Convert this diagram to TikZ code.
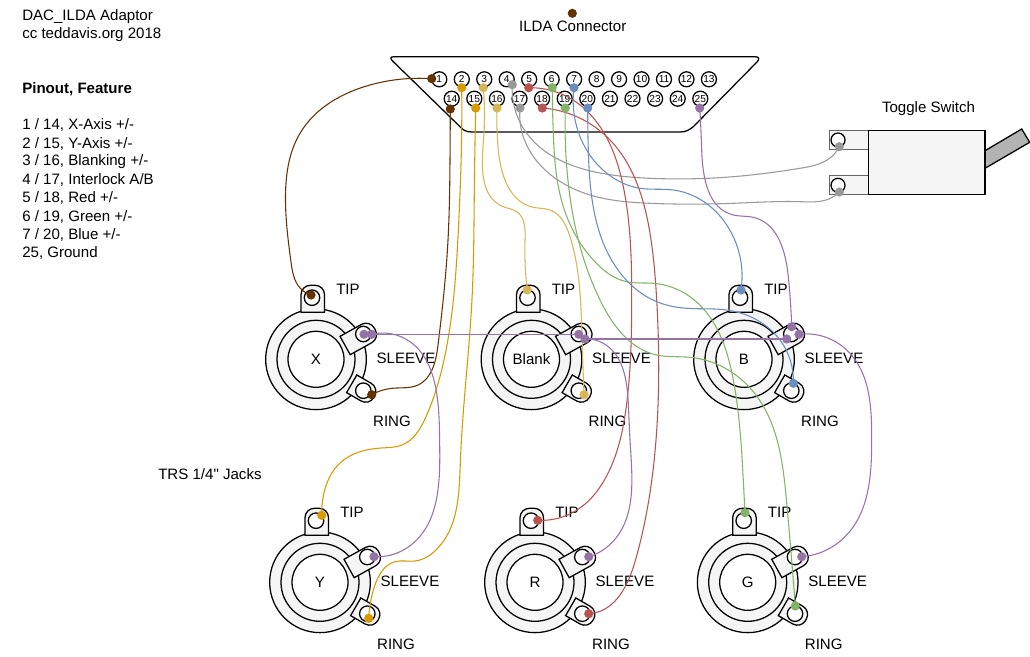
\documentclass[tikz,border=0pt]{standalone}
\usepackage{fontspec}
\usetikzlibrary{hobby}
\setmainfont{Liberation Sans}
\newfontfamily\plainquote{Liberation Sans}
\definecolor{cbrown}{HTML}{663300}
\definecolor{cgold}{HTML}{D79B00}
\definecolor{clight}{HTML}{D6B656}
\definecolor{cgray}{HTML}{999999}
\definecolor{cred}{HTML}{B85450}
\definecolor{cgreen}{HTML}{82B366}
\definecolor{cblue}{HTML}{6C8EBF}
\definecolor{cpurple}{HTML}{9673A6}
\definecolor{cpanel}{HTML}{F5F5F5}
\definecolor{cterm}{HTML}{666666}
\definecolor{clever}{HTML}{B3B3B3}
\tikzset{
  ln/.style={draw=black,line width=0.95pt},
  txt/.style={font=\fontsize{11.3}{13}\selectfont,inner sep=0pt,text=black,yshift=-0.7pt},
  pinhole/.style={circle,ln,fill=white,minimum size=11.25pt,inner sep=0pt,font=\fontsize{7.6}{8}\selectfont},
  hole/.style={circle,ln,fill=white,minimum size=11.6pt,inner sep=0pt},
  wire/.style={line width=0.8pt,line cap=round,line join=round,use Hobby shortcut},
  dotn/.style={circle,minimum size=6.9pt,inner sep=0pt,draw=none},
}
\newcommand{\tabshape}[8]{% name, cx, cy, bx, by, angle, length, halfwidth
  \begin{scope}[shift={(#2+#4,#3+#5)},rotate=#6]
    \draw[ln,fill=cpanel] (0,-#8) [rounded corners=7pt] -- (#7,-#8) -- (#7,#8) [sharp corners] -- (0,#8) -- cycle;
  \end{scope}}
\newcommand{\jackunit}[4]{% name, x, y, label
  \node[circle,ln,fill=cpanel,minimum size=75.5pt,inner sep=0pt] (#1outer) at (#2,#3) {};
  \node[circle,ln,fill=cpanel,minimum size=58.5pt,inner sep=0pt] (#1mid) at (#2,#3) {};
  \node[circle,ln,fill=white,minimum size=42pt,inner sep=0pt,font=\fontsize{11.3}{13}\selectfont] (#1inner) at (#2,#3) {#4};
  \tabshape{#1t}{#2}{#3}{-3.25}{-47}{90}{27}{11.75}
  \tabshape{#1s}{#2}{#3}{29.1}{-13.8}{29}{34}{10.5}
  \tabshape{#1r}{#2}{#3}{35.7}{24.5}{-30}{26}{10.2}
  \node[hole] (#1th) at (#2-4,#3-61.6) {};
  \node[hole] (#1sh) at (#2+47.3,#3-25.3) {};
  \node[hole] (#1rh) at (#2+47.3,#3+31.4) {};
  \node[txt] (#1tl) at (#2+32,#3-71) {TIP};
  \node[txt] (#1sl) at (#2+90,#3-1.6) {SLEEVE};
  \node[txt] (#1rl) at (#2+76,#3+61.4) {RING};
}
\newcommand{\wdot}[2]{\node[dotn,fill=#2] (#1n) at (#1) {};}
\begin{document}
\begin{tikzpicture}[x=0.75pt,y=-0.75pt]
\useasboundingbox (0,0) rectangle (1030,656);
\fill[white] (0,0) rectangle (1030,656);

% texts
\node[txt,anchor=west] (title1) at (22,15.7) {DAC\_ILDA Adaptor};
\node[txt,anchor=west] (title2) at (22,33.7) {cc teddavis.org 2018};
\node[txt,anchor=west,font=\fontsize{11.3}{13}\selectfont\bfseries] (pinhead) at (22,88.3) {Pinout, Feature};
\node[txt,anchor=west] (l1) at (22,124.3) {1 / 14, X-Axis +/-};
\node[txt,anchor=west] (l2) at (22,142.6) {2 / 15, Y-Axis +/-};
\node[txt,anchor=west] (l3) at (22,160.7) {3 / 16, Blanking +/-};
\node[txt,anchor=west] (l4) at (22,178.7) {4 / 17, Interlock A/B};
\node[txt,anchor=west] (l5) at (22,196.7) {5 / 18, Red +/-};
\node[txt,anchor=west] (l6) at (22,216) {6 / 19, Green +/-};
\node[txt,anchor=west] (l7) at (22,234) {7 / 20, Blue +/-};
\node[txt,anchor=west] (l8) at (22,252) {25, Ground};
\node[txt,anchor=west] (trs) at (158,473.5) {TRS 1/4{\plainquote "} Jacks};
\node[txt] (ildal) at (572.7,25.7) {ILDA Connector};
\node[txt] (togl) at (928.5,107.7) {Toggle Switch};

% connector shell
\draw[ln] (394,56.7) -- (755,56.7) .. controls (759,56.7) and (760,59) .. (757,62) -- (693.3,126.7)
  .. controls (689,130) and (686,132) .. (680,132) -- (472,132)
  .. controls (466,132) and (463,130) .. (460,126.7) -- (393.3,61.7)
  .. controls (390,59) and (390,56.7) .. (394,56.7) -- cycle;
\foreach \n [count=\i from 0] in {1,...,13} {
  \node[pinhole] (pin\n) at (439.3+\i*22.47,79.3) {\n};
}
\foreach \n [count=\i from 0] in {14,...,25} {
  \node[pinhole] (pin\n) at (451.7+\i*22.6,98.7) {\n};
}

% jacks
\jackunit{X}{316}{359.3}{X}
\jackunit{K}{531.5}{359.3}{Blank}
\jackunit{B}{744}{359.3}{B}
\jackunit{Y}{320}{582.3}{Y}
\jackunit{R}{535}{582.3}{R}
\jackunit{G}{747.7}{582.3}{G}

% toggle switch
\draw[ln,fill=clever] (985,150.7) -- (1021.7,129) -- (1029.7,142.3) -- (985,168.3) -- cycle;
\node[draw=cterm,line width=0.95pt,fill=cpanel,minimum width=29.5pt,minimum height=14.2pt,inner sep=0pt] (st1) at (849,139.8) {};
\node[draw=cterm,line width=0.95pt,fill=cpanel,minimum width=29.5pt,minimum height=14.2pt,inner sep=0pt] (st2) at (849,185.2) {};
\node[ln,fill=cpanel,minimum width=87.2pt,minimum height=48.3pt,inner sep=0pt] (swbody) at (926.9,162.5) {};
\node[circle,ln,fill=white,minimum size=10.5pt,inner sep=0pt] (sh1) at (838,140) {};
\node[circle,ln,fill=white,minimum size=10.5pt,inner sep=0pt] (sh2) at (838,185.3) {};

% wire ends
\coordinate (p1) at (431.7,78.7);
\coordinate (p2) at (461.7,87.7);
\coordinate (p3) at (483.3,87.7);
\coordinate (p4) at (512.3,84.7);
\coordinate (p5) at (528.7,87.7);
\coordinate (p6) at (552.3,87.7);
\coordinate (p7) at (574,87.7);
\coordinate (p14) at (450.3,109);
\coordinate (p15) at (475.7,108);
\coordinate (p16) at (497,108);
\coordinate (p17) at (520,108);
\coordinate (p18) at (542.3,108);
\coordinate (p19) at (565.3,108);
\coordinate (p20) at (587.7,108);
\coordinate (p25) at (699.7,108);
\coordinate (xt) at (311,295);
\coordinate (xs1) at (364,334.3);
\coordinate (xs2) at (371.7,334.3);
\coordinate (xr) at (371.7,394.7);
\coordinate (kt) at (527.3,290);
\coordinate (ks1) at (578.7,334.3);
\coordinate (ks2) at (585,339);
\coordinate (kr) at (584,394.7);
\coordinate (bt) at (741,290);
\coordinate (bs1) at (791.7,326.7);
\coordinate (bs2) at (786.7,339);
\coordinate (bs3) at (799,334.3);
\coordinate (br) at (793.3,383.3);
\coordinate (yt) at (321.7,515.3);
\coordinate (ys) at (374,556.7);
\coordinate (yr) at (368.7,618.3);
\coordinate (rt) at (537.7,520.3);
\coordinate (rs) at (588.7,556.7);
\coordinate (rr) at (588.7,613.7);
\coordinate (gt) at (745,512.7);
\coordinate (gs) at (801.7,556.7);
\coordinate (gr) at (795.3,606);
\coordinate (sw1) at (839.3,146.7);
\coordinate (sw2) at (839.3,192);

% wires
\draw[wire,cbrown] (p1) .. (370,85) .. (300,133.3) .. (285.5,195) .. (291,262) .. (300,288) .. (xt);
\draw[wire,cbrown] (p14) .. (450,160) .. (448,240) .. (438,345) .. (418,385) .. (392,388.3) .. (xr);
\draw[wire,cgold] (p2) .. (461.5,143) .. (458.5,227) .. (447,345) .. (426,416.7) .. (402,445) .. (381,448) .. (340,463) .. (323.5,495) .. (yt);
\draw[wire,cgold] (p15) .. (474.3,193) .. (472,299) .. (460.3,463.3) .. (436,550) .. (415,561) .. (395,561.7) .. (374.4,586.7) .. (yr);
\draw[wire,clight] (p3) .. (483.3,143) .. (503.3,206.7) .. (516.7,211.7) .. (525,240) .. (kt);
\draw[wire,clight] (p16) .. (498.3,150) .. (533.3,207.3) .. (550,210) .. (570,236.7) .. (582,337) .. (kr);
\draw[wire,cgray] (p4) .. (526.7,133.3) .. (600,173) .. (650,178.3) .. (733,176.7) .. (800,168.3) .. (830,158) .. (sw1);
\draw[wire,cgray] (p17) .. (523.3,136.7) .. (590,195) .. (650,203.3) .. (733,203.3) .. (800,201.7) .. (830,198.5) .. (sw2);
\draw[wire,cred] (p5) .. (573,100) .. (603.3,131.7) .. (623.3,186.7) .. (631.7,300) .. (626.7,403.3) .. (608,473.3) .. (577,510) .. (rt);
\draw[wire,cred] (p18) .. (606.7,136.7) .. (650,233.3) .. (656.7,300) .. (656,440) .. (635.5,560) .. (592.6,613.3) .. (rr);
\draw[wire,cgreen] (p6) .. (553.3,133.3) .. (563.3,206.7) .. (593.3,260) .. (626.7,281.7) .. (653.3,283.3) .. (690,296.7) .. (733.3,380) .. (743.8,490) .. (gt);
\draw[wire,cgreen] (p19) .. (566.7,166.7) .. (600,300) .. (656.7,355) .. (690,357.3) .. (753.3,391.7) .. (786.7,503) .. (gr);
\draw[wire,cblue] (p7) .. (576.7,126.7) .. (616.7,180) .. (640,188.3) .. (673.3,190) .. (733.3,236.7) .. (bt);
\draw[wire,cblue] (p20) .. (588.3,150) .. (623.3,276.7) .. (656.7,301.7) .. (686.7,308.3) .. (726.7,310) .. (780,340) .. (br);
\draw[wire,cpurple] (xs1) -- (ks1);
\draw[wire,cpurple] (ks2) -- (bs2);
\draw[wire,cpurple] (xs2) .. (410,341.7) .. (436.7,393.3) .. (439.7,446) .. (408.7,546.7) .. (ys);
\draw[wire,cpurple] (ks2) .. (603.3,343.3) .. (628.3,403.3) .. (630.4,446.7) .. (611.5,543) .. (rs);
\draw[wire,cpurple] (bs3) .. (846.7,350) .. (871.7,438.3) .. (845,536.7) .. (gs);
\draw[wire,cpurple] (p25) .. (701.7,150) .. (733.3,215) .. (753.3,217.3) .. (788.3,276.7) .. (bs1);

% dots
\coordinate (lone) at (572.3,13.3);
\wdot{lone}{cbrown}
\wdot{p1}{cbrown}\wdot{p14}{cbrown}\wdot{xt}{cbrown}\wdot{xr}{cbrown}
\wdot{p2}{cgold}\wdot{p15}{cgold}\wdot{yt}{cgold}\wdot{yr}{cgold}
\wdot{p3}{clight}\wdot{p16}{clight}\wdot{kt}{clight}\wdot{kr}{clight}
\wdot{p4}{cgray}\wdot{p17}{cgray}\wdot{sw1}{cgray}\wdot{sw2}{cgray}
\wdot{p5}{cred}\wdot{p18}{cred}\wdot{rt}{cred}\wdot{rr}{cred}
\wdot{p6}{cgreen}\wdot{p19}{cgreen}\wdot{gt}{cgreen}\wdot{gr}{cgreen}
\wdot{p7}{cblue}\wdot{p20}{cblue}\wdot{bt}{cblue}\wdot{br}{cblue}
\wdot{p25}{cpurple}\wdot{xs1}{cpurple}\wdot{xs2}{cpurple}\wdot{ks1}{cpurple}\wdot{ks2}{cpurple}
\wdot{bs1}{cpurple}\wdot{bs2}{cpurple}\wdot{bs3}{cpurple}\wdot{ys}{cpurple}\wdot{rs}{cpurple}\wdot{gs}{cpurple}
\end{tikzpicture}
\end{document}
